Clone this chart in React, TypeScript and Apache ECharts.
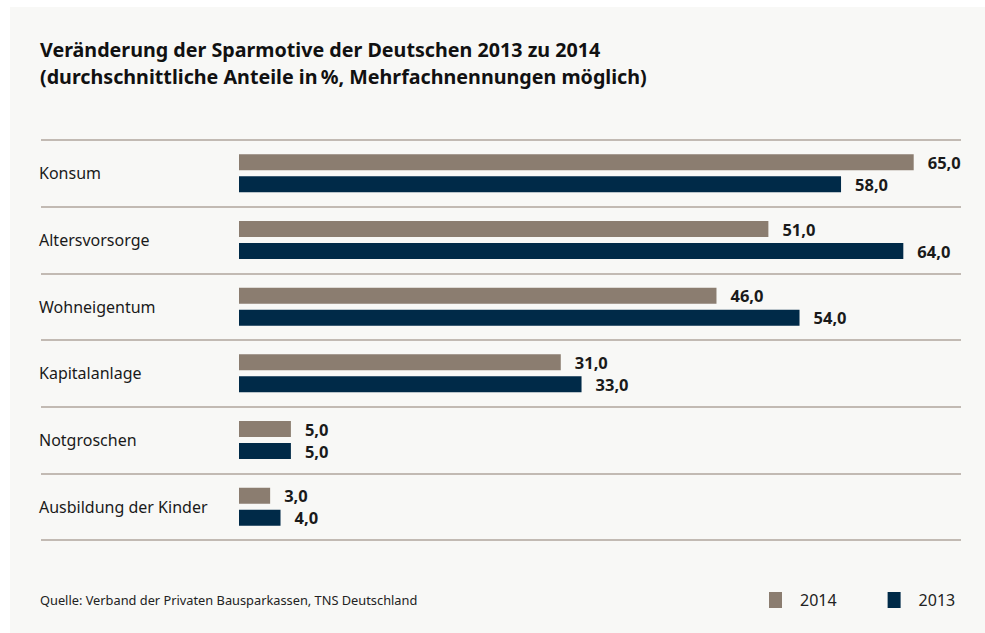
import React, { useEffect, useRef } from "react";
import * as echarts from "echarts";

const categories = [
  "Konsum",
  "Altersvorsorge",
  "Wohneigentum",
  "Kapitalanlage",
  "Notgroschen",
  "Ausbildung der Kinder",
];
const values2014 = [65, 51, 46, 31, 5, 3];
const values2013 = [58, 64, 54, 33, 5, 4];
const seriesNames = ["2014", "2013"];

const titleText =
  "Veränderung der Sparmotive der Deutschen 2013 zu 2014\n(durchschnittliche Anteile in\u2009%, Mehrfachnennungen möglich)";
const sourceText = "Quelle: Verband der Privaten Bausparkassen, TNS Deutschland";

const GRAY = "#8b7d70";
const NAVY = "#002a48";
const FONT = "'Noto Sans', sans-serif";

export default function App() {
  const ref = useRef<HTMLDivElement>(null);
  useEffect(() => {
    if (!ref.current) return;
    const chart = echarts.init(ref.current, undefined, { renderer: "svg" });
    const fmt = (p: any) => Number(p.value).toFixed(1).replace(".", ",");
    const label = {
      show: true,
      position: "right",
      distance: 14,
      formatter: fmt,
      fontFamily: FONT,
      fontSize: 16.5,
      fontWeight: "bold",
      color: "#1a1a1a",
    };
    chart.setOption({
      animation: false,
      backgroundColor: "#ffffff",
      textStyle: { fontFamily: FONT },
      graphic: [
        {
          type: "rect",
          z: -10,
          silent: true,
          shape: { x: 10, y: 7, width: 975, height: 626 },
          style: { fill: "#f8f8f6" },
        },
        {
          type: "text",
          left: 40,
          top: 593,
          silent: true,
          style: {
            text: sourceText,
            fontFamily: FONT,
            fontSize: 12.8,
            fill: "#222222",
          },
        },
      ],
      title: {
        text: titleText,
        left: 35,
        top: 31,
        textStyle: {
          fontFamily: FONT,
          fontSize: 19.7,
          fontWeight: "bold",
          color: "#111111",
          lineHeight: 27,
        },
      },
      legend: {
        data: seriesNames,
        left: 769,
        top: 592,
        padding: 0,
        itemWidth: 13,
        itemHeight: 16,
        itemGap: 51,
        icon: "rect",
        formatter: "{a|{name}}",
        textStyle: {
          fontFamily: FONT,
          fontSize: 16,
          color: "#222222",
          rich: { a: { padding: [0, 0, 0, 13], fontSize: 16, fontFamily: FONT, color: "#222222" } },
        },
      },
      grid: [
        { left: 239, right: 19.4, top: 140, bottom: 93 },
        { left: 41, right: 24, top: 140, bottom: 93 },
      ],
      xAxis: [
        { type: "value", gridIndex: 0, min: 0, max: 70, show: false },
        { type: "value", gridIndex: 1, min: 0, max: 1, show: false },
      ],
      yAxis: [
        {
          type: "category",
          gridIndex: 0,
          data: categories,
          inverse: true,
          axisLine: { show: false },
          axisTick: { show: false },
          splitLine: { show: false },
          axisLabel: {
            align: "left",
            margin: 200,
            fontFamily: FONT,
            fontSize: 16,
            color: "#1a1a1a",
          },
        },
        {
          type: "category",
          gridIndex: 1,
          data: categories,
          inverse: true,
          axisLine: { show: false },
          axisTick: { show: false },
          axisLabel: { show: false },
          splitLine: { show: true, lineStyle: { color: "#b0a69c", width: 1.5 } },
        },
      ],
      series: [
        {
          name: seriesNames[0],
          type: "bar",
          xAxisIndex: 0,
          yAxisIndex: 0,
          data: values2014,
          barWidth: 16,
          barGap: "37.5%",
          itemStyle: { color: GRAY },
          label,
        },
        {
          name: seriesNames[1],
          type: "bar",
          xAxisIndex: 0,
          yAxisIndex: 0,
          data: values2013,
          barWidth: 16,
          barGap: "37.5%",
          itemStyle: { color: NAVY },
          label,
        },
      ],
    });
    return () => chart.dispose();
  }, []);
  return (
    <div
      ref={ref}
      style={{ position: "fixed", left: 0, top: 0, width: 985, height: 633 }}
    />
  );
}
